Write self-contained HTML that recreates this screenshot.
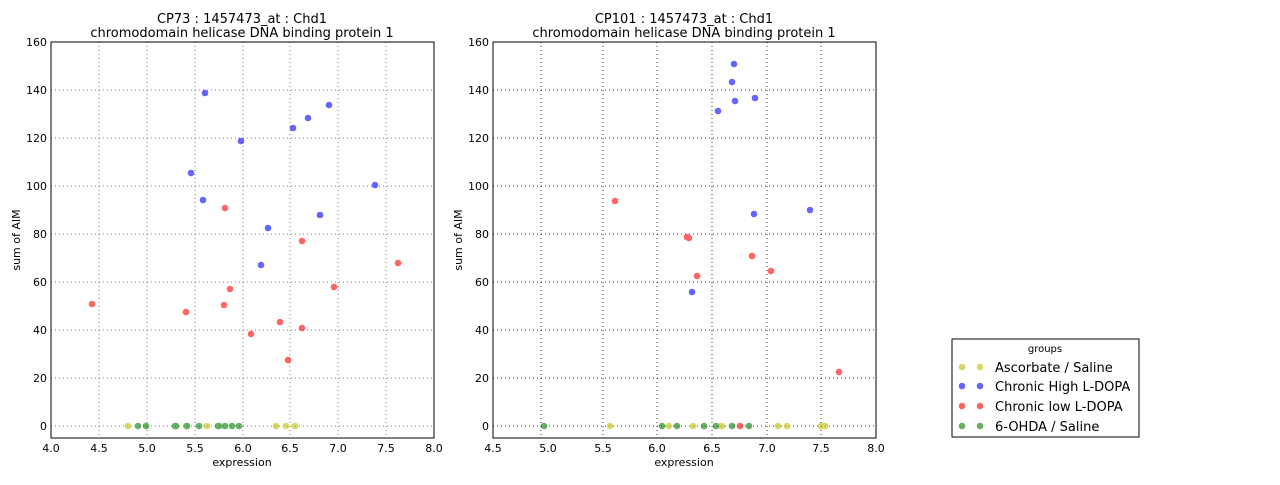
<!DOCTYPE html><html><head><style>body{margin:0;background:#fff}svg text{font-family:"DejaVu Sans","Liberation Sans",sans-serif}</style></head><body>
<svg width="1280" height="480" xmlns="http://www.w3.org/2000/svg">
<defs>
<g id="grid1" stroke="#666" stroke-dasharray="1,3" stroke-width="0.8"></g>
</defs>
<!-- Left axes -->
<g font-size="11" fill="#000">
<g stroke="#555" stroke-dasharray="1,3" stroke-width="0.8">
<line x1="99" y1="42" x2="99" y2="438"/><line x1="147" y1="42" x2="147" y2="438"/><line x1="195" y1="42" x2="195" y2="438"/><line x1="243" y1="42" x2="243" y2="438"/><line x1="290" y1="42" x2="290" y2="438"/><line x1="338" y1="42" x2="338" y2="438"/><line x1="386" y1="42" x2="386" y2="438"/>
<line x1="51" y1="426" x2="434" y2="426"/><line x1="51" y1="378" x2="434" y2="378"/><line x1="51" y1="330" x2="434" y2="330"/><line x1="51" y1="282" x2="434" y2="282"/><line x1="51" y1="234" x2="434" y2="234"/><line x1="51" y1="186" x2="434" y2="186"/><line x1="51" y1="138" x2="434" y2="138"/><line x1="51" y1="90" x2="434" y2="90"/>
</g>
<g stroke="#000" stroke-dasharray="1,3" stroke-width="0.8">
<line x1="541" y1="42" x2="541" y2="438"/><line x1="603" y1="42" x2="603" y2="438"/><line x1="657" y1="42" x2="657" y2="438"/><line x1="712" y1="42" x2="712" y2="438"/><line x1="767" y1="42" x2="767" y2="438"/><line x1="821" y1="42" x2="821" y2="438"/>
<line x1="493" y1="426" x2="876" y2="426"/><line x1="493" y1="378" x2="876" y2="378"/><line x1="493" y1="330" x2="876" y2="330"/><line x1="493" y1="282" x2="876" y2="282"/><line x1="493" y1="234" x2="876" y2="234"/><line x1="493" y1="186" x2="876" y2="186"/><line x1="493" y1="138" x2="876" y2="138"/><line x1="493" y1="90" x2="876" y2="90"/>
</g>
<g opacity="0.6">
<g fill="#0000ff">
<circle cx="205" cy="93" r="3.3"/><circle cx="191" cy="173" r="3.3"/><circle cx="203" cy="200" r="3.3"/><circle cx="241" cy="141" r="3.3"/><circle cx="293" cy="128" r="3.3"/><circle cx="308" cy="118" r="3.3"/><circle cx="329" cy="105" r="3.3"/><circle cx="375" cy="185" r="3.3"/><circle cx="320" cy="215" r="3.3"/><circle cx="268" cy="228" r="3.3"/><circle cx="261" cy="265" r="3.3"/>
<circle cx="734" cy="64" r="3.3"/><circle cx="732" cy="82" r="3.3"/><circle cx="735" cy="101" r="3.3"/><circle cx="718" cy="111" r="3.3"/><circle cx="755" cy="98" r="3.3"/><circle cx="754" cy="214" r="3.3"/><circle cx="810" cy="210" r="3.3"/><circle cx="692" cy="292" r="3.3"/>
</g>
<g fill="#ff0000">
<circle cx="92" cy="304" r="3.3"/><circle cx="186" cy="312" r="3.3"/><circle cx="225" cy="208" r="3.3"/><circle cx="230" cy="289" r="3.3"/><circle cx="224" cy="305" r="3.3"/><circle cx="251" cy="334" r="3.3"/><circle cx="280" cy="322" r="3.3"/><circle cx="302" cy="241" r="3.3"/><circle cx="302" cy="328" r="3.3"/><circle cx="288" cy="360" r="3.3"/><circle cx="334" cy="287" r="3.3"/><circle cx="398" cy="263" r="3.3"/>
<circle cx="615" cy="201" r="3.3"/><circle cx="687" cy="237" r="3.3"/><circle cx="689" cy="238" r="3.3"/><circle cx="697" cy="276" r="3.3"/><circle cx="752" cy="256" r="3.3"/><circle cx="771" cy="271" r="3.3"/><circle cx="839" cy="372" r="3.3"/><circle cx="740" cy="426" r="3.3"/>
</g>
<g fill="#bfbf00">
<circle cx="128" cy="426" r="3.3"/><circle cx="186" cy="426" r="3.3"/><circle cx="207" cy="426" r="3.3"/><circle cx="276" cy="426" r="3.3"/><circle cx="286" cy="426" r="3.3"/><circle cx="295" cy="426" r="3.3"/>
<circle cx="610" cy="426" r="3.3"/><circle cx="669" cy="426" r="3.3"/><circle cx="693" cy="426" r="3.3"/><circle cx="721" cy="426" r="3.3"/><circle cx="722" cy="426" r="3.3"/><circle cx="778" cy="426" r="3.3"/><circle cx="787" cy="426" r="3.3"/><circle cx="821" cy="426" r="3.3"/><circle cx="825" cy="426" r="3.3"/>
</g>
<g fill="#008000">
<circle cx="138" cy="426" r="3.3"/><circle cx="146" cy="426" r="3.3"/><circle cx="175" cy="426" r="3.3"/><circle cx="176" cy="426" r="3.3"/><circle cx="187" cy="426" r="3.3"/><circle cx="199" cy="426" r="3.3"/><circle cx="218" cy="426" r="3.3"/><circle cx="219" cy="426" r="3.3"/><circle cx="225" cy="426" r="3.3"/><circle cx="232" cy="426" r="3.3"/><circle cx="239" cy="426" r="3.3"/>
<circle cx="544" cy="426" r="3.3"/><circle cx="662" cy="426" r="3.3"/><circle cx="677" cy="426" r="3.3"/><circle cx="704" cy="426" r="3.3"/><circle cx="716" cy="426" r="3.3"/><circle cx="732" cy="426" r="3.3"/><circle cx="749" cy="426" r="3.3"/>
</g>
</g>
<rect x="51" y="42" width="383" height="396" fill="none" stroke="#000"/>
<rect x="493" y="42" width="383" height="396" fill="none" stroke="#000"/>
<g text-anchor="middle">
<text x="51" y="452">4.0</text><text x="99" y="452">4.5</text><text x="147" y="452">5.0</text><text x="195" y="452">5.5</text><text x="243" y="452">6.0</text><text x="290" y="452">6.5</text><text x="338" y="452">7.0</text><text x="386" y="452">7.5</text><text x="434" y="452">8.0</text>
<text x="493" y="452">4.5</text><text x="548" y="452">5.0</text><text x="603" y="452">5.5</text><text x="657" y="452">6.0</text><text x="712" y="452">6.5</text><text x="767" y="452">7.0</text><text x="821" y="452">7.5</text><text x="876" y="452">8.0</text>
<text x="242" y="466">expression</text><text x="684" y="466">expression</text>
<text x="242" y="23" font-size="13">CP73 : 1457473_at : Chd1</text>
<text x="242" y="37" font-size="13">chromodomain helicase DNA binding protein 1</text>
<text x="684" y="23" font-size="13">CP101 : 1457473_at : Chd1</text>
<text x="684" y="37" font-size="13">chromodomain helicase DNA binding protein 1</text>
</g>
<g text-anchor="end">
<text x="47" y="430">0</text><text x="47" y="382">20</text><text x="47" y="334">40</text><text x="47" y="286">60</text><text x="47" y="238">80</text><text x="47" y="190">100</text><text x="47" y="142">120</text><text x="47" y="94">140</text><text x="47" y="46">160</text>
<text x="489" y="430">0</text><text x="489" y="382">20</text><text x="489" y="334">40</text><text x="489" y="286">60</text><text x="489" y="238">80</text><text x="489" y="190">100</text><text x="489" y="142">120</text><text x="489" y="94">140</text><text x="489" y="46">160</text>
</g>
<text transform="translate(20,240) rotate(-90)" text-anchor="middle">sum of AIM</text>
<text transform="translate(462,240) rotate(-90)" text-anchor="middle">sum of AIM</text>
<rect x="952" y="339" width="187" height="98" fill="#fff" stroke="#000"/>
<text x="1045" y="352" text-anchor="middle" font-size="10">groups</text>
<g opacity="0.6">
<circle cx="962" cy="367" r="3.3" fill="#bfbf00"/><circle cx="980" cy="367" r="3.3" fill="#bfbf00"/>
<circle cx="962" cy="386" r="3.3" fill="#0000ff"/><circle cx="980" cy="386" r="3.3" fill="#0000ff"/>
<circle cx="962" cy="406" r="3.3" fill="#ff0000"/><circle cx="980" cy="406" r="3.3" fill="#ff0000"/>
<circle cx="962" cy="426" r="3.3" fill="#008000"/><circle cx="980" cy="426" r="3.3" fill="#008000"/>
</g>
<g font-size="13">
<text x="995" y="372">Ascorbate / Saline</text>
<text x="995" y="391">Chronic High L-DOPA</text>
<text x="995" y="411">Chronic low L-DOPA</text>
<text x="995" y="431">6-OHDA / Saline</text>
</g>
</g>
</svg>
</body></html>
